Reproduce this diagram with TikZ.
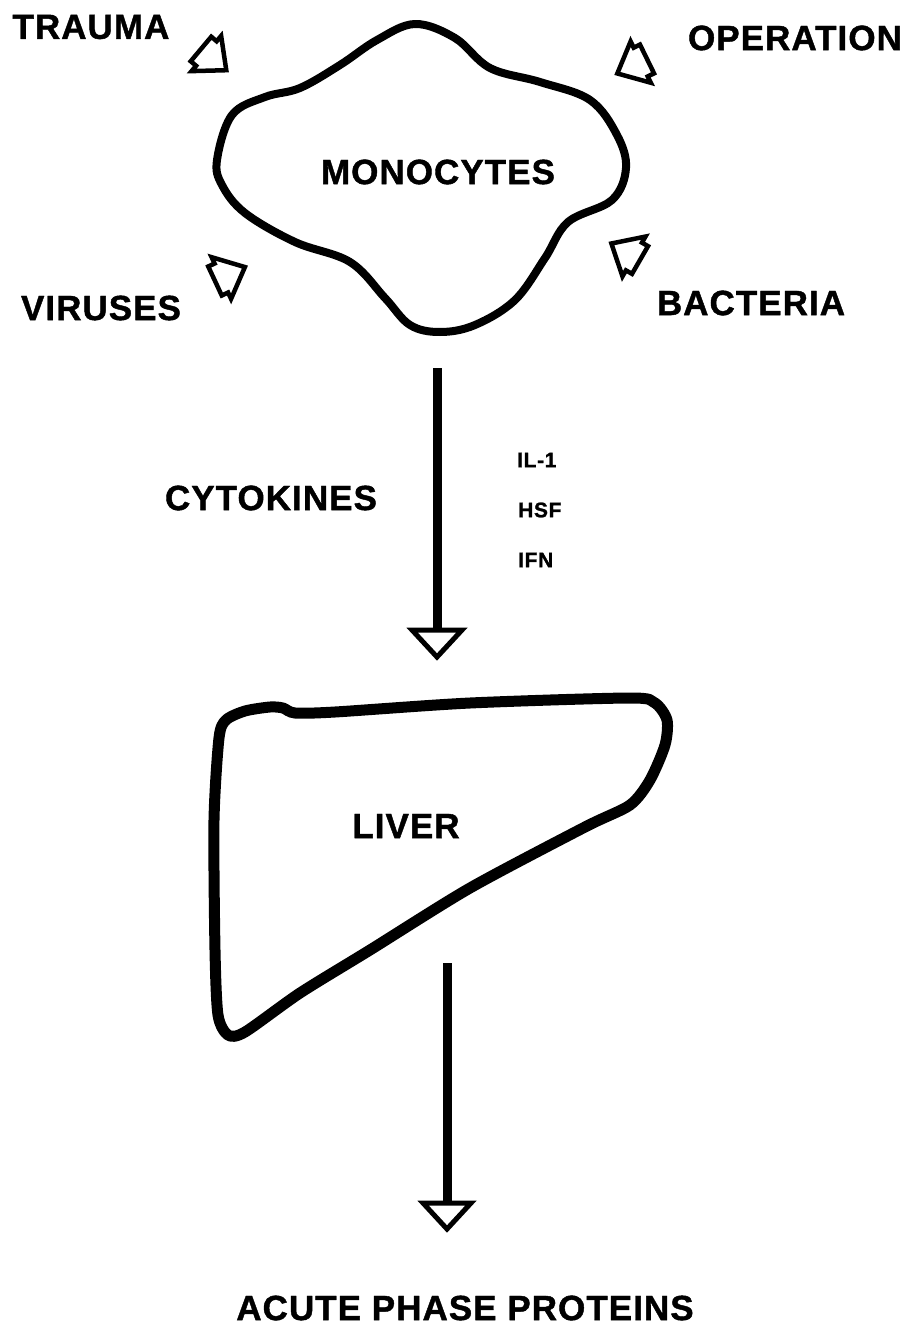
\documentclass[tikz,border=0pt]{standalone}
\usepackage{fontspec}
\setmainfont{Liberation Sans}[LetterSpace=3, BoldFeatures={FakeBold=1.2}]
\begin{document}
\begin{tikzpicture}[x=1pt,y=-1pt,
  lbl/.style={font=\fontsize{35}{40}\selectfont\bfseries, inner sep=0pt},
  small/.style={font=\fontsize{21}{24}\selectfont\bfseries, inner sep=0pt, anchor=west},
  cellline/.style={line width=8pt, line join=round},
  liverline/.style={line width=11pt, line join=round},
  inarrow/.style={line width=4.5pt, line join=miter, fill=white},
  shaft/.style={line width=9pt},
  bighead/.style={line width=5pt, line join=miter, fill=white}]
\useasboundingbox (0,0) rectangle (915,1335);
\fill[white] (0,0) rectangle (915,1335);

% monocyte cell
\draw[cellline] plot[smooth cycle, tension=0.6] coordinates {
 (217,160) (232,115) (265,97) (300,88) (340,65) (377,40) (415,24) (455,38)
 (490,68) (540,82) (590,100) (617,135) (626,168) (612,200) (568,222)
 (545,258) (515,300) (475,325) (440,332) (410,325) (385,298) (350,262)
 (295,242) (245,213) (222,185)};

% liver
\draw[liverline] plot[smooth cycle, tension=0.45] coordinates {
 (219,738) (226,720) (245,711) (270,707) (283,708) (295,713) (335,712) (470,703)
 (630,698) (655,703) (667,720) (665,745) (650,780) (630,805) (585,827)
 (470,888) (370,950) (300,993) (245,1032) (228,1035) (218,1015) (215,950)
 (214,820)};

% small inward arrows
\newcommand{\hollowarrow}[3]{%
  \draw[inarrow, shift={(#1,#2)}, rotate=#3]
    (0,16) -- (7,16) -- (7,23) -- (33,0) -- (7,-23) -- (7,-16) -- (0,-16) -- cycle;}
\hollowarrow{201}{49}{-40}
\hollowarrow{647}{59}{206}
\hollowarrow{215}{281}{25}
\hollowarrow{640}{260}{150}

% labels
\node[lbl] (trauma) at (91,27) {TRAUMA};
\node[lbl] (operation) at (795,38) {OPERATION};
\node[lbl] (mono) at (438,172) {MONOCYTES};
\node[lbl] (viruses) at (101,308) {VIRUSES};
\node[lbl] (bacteria) at (751,303) {BACTERIA};
\node[lbl] (cyto) at (271,498) {CYTOKINES};
\node[small] (il) at (517,460) {IL-1};
\node[small] (hsf) at (518,510) {HSF};
\node[small] (ifn) at (518,560) {IFN};
\node[lbl] (liver) at (406,826) {LIVER};
\node[lbl] (app) at (465,1308) {ACUTE PHASE PROTEINS};

% main arrows
\coordinate (a1s) at (437,368);
\coordinate (a1e) at (437,630);
\coordinate (a2s) at (447,963);
\coordinate (a2e) at (447,1203);
\draw[shaft] (a1s) -- (a1e);
\draw[bighead] ([xshift=-25pt]a1e) -- ([xshift=25pt]a1e) -- ([yshift=-27pt]a1e) -- cycle;
\draw[shaft] (a2s) -- (a2e);
\draw[bighead] ([xshift=-24pt]a2e) -- ([xshift=24pt]a2e) -- ([yshift=-26pt]a2e) -- cycle;
\end{tikzpicture}
\end{document}
